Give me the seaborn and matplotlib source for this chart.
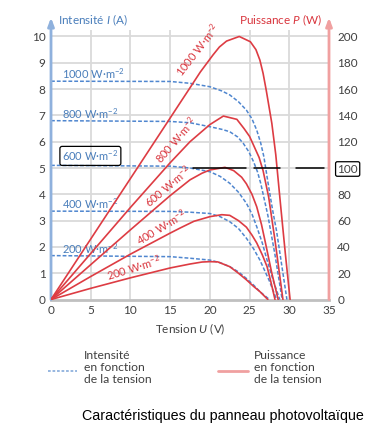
import matplotlib
matplotlib.use("Agg")
import matplotlib.pyplot as plt
import seaborn as sns
import pandas as pd

# ---------------- data ----------------
irradiances = ["1000", "800", "600", "400", "200"]

# Intensité I (A) vs tension U (V)
U_I_1000 = [0, 15, 17.5, 20, 21.5, 22.5, 23.6, 24.6, 25.3, 25.9, 26.4, 26.8, 27.4, 27.9, 28.4, 29.0, 29.7]
I_1000 = [8.3, 8.29, 8.22, 8.09, 7.93, 7.78, 7.52, 7.2, 6.87, 6.44, 5.95, 5.43, 4.29, 3.4, 2.6, 1.4, 0]
U_I_800 = [0, 15, 17.5, 20, 21.5, 22.5, 23.5, 24.2, 24.9, 25.5, 26.0, 26.4, 27.3, 28.2, 29.1]
I_800 = [6.8, 6.77, 6.72, 6.57, 6.47, 6.38, 6.18, 5.94, 5.62, 5.24, 4.85, 4.42, 3.2, 1.7, 0]
U_I_600 = [0, 15, 17.5, 20, 21.3, 22.5, 23.6, 24.6, 25.3, 25.9, 26.6, 27.2, 28.0, 28.8]
I_600 = [5.1, 5.07, 5.0, 4.86, 4.68, 4.42, 4.08, 3.66, 3.25, 2.77, 2.15, 1.5, 0.7, 0]
U_I_400 = [0, 15, 17.5, 20, 21.3, 22.5, 23.6, 24.6, 25.5, 26.3, 27.5, 28.4]
I_400 = [3.36, 3.35, 3.32, 3.27, 3.15, 2.96, 2.7, 2.33, 1.93, 1.5, 0.7, 0]
U_I_200 = [0, 15, 17.5, 20, 21.3, 22.5, 23.6, 24.6, 25.5, 26.3, 27.5]
I_200 = [1.67, 1.63, 1.57, 1.5, 1.4, 1.25, 1.05, 0.8, 0.55, 0.3, 0]

# Puissance P (W) vs tension U (V)
U_P_1000 = [0, 5, 10, 15, 16.3, 17.5, 18.8, 20.4, 21.2, 22.1, 23.7, 25.1, 25.8, 26.3, 26.7, 27.1, 27.8, 28.3, 28.9, 29.5, 30.1]
P_1000 = [0, 46, 92, 138, 150, 161, 173, 186, 192, 196.5, 200, 196, 190, 182, 172, 159, 134, 110, 72, 35, 0]
U_P_800 = [0, 5, 10, 15, 17.5, 20, 21.7, 23.4, 24.3, 25.0, 25.6, 26.2, 26.7, 27.4, 28.2, 28.8, 29.2]
P_800 = [0, 35, 70, 104, 120, 133, 139.5, 137, 130, 124, 116, 108, 98, 78, 45, 18, 0]
U_P_600 = [0, 5, 10, 15, 17.5, 19, 20, 21.9, 23.0, 24.0, 24.6, 25.3, 25.9, 26.5, 27.0, 27.8, 28.6]
P_600 = [0, 26.5, 53, 79, 91, 96, 98.5, 100.5, 98, 93, 88, 80, 70.5, 57, 43, 20, 0]
U_P_400 = [0, 5, 10, 15, 16.3, 18, 20, 21.5, 22.5, 23.6, 24.6, 25.3, 25.9, 26.6, 27.2, 27.7, 28.2]
P_400 = [0, 17.5, 34.5, 50.5, 54.5, 59.5, 63, 64.5, 64, 60, 55, 49, 43, 34, 25, 13, 0]
U_P_200 = [0, 5, 10, 15, 17.5, 19, 20, 21, 22.5, 23.6, 24.6, 25.5, 26.3, 27.3]
P_200 = [0, 8.5, 16.5, 24, 27, 28.5, 28.8, 28.6, 25, 20, 15, 10, 6, 0]

x_ticks = [0, 5, 10, 15, 20, 25, 30, 35]
i_ticks = [0, 1, 2, 3, 4, 5, 6, 7, 8, 9, 10]
p_ticks = [0, 20, 40, 60, 80, 100, 120, 140, 160, 180, 200]

# hand-drawn annotation at P = 100 W
marker_level = 100
marker_segments = [(17.9, 24.5), (25.6, 28.8), (30.9, 34.4)]

# ---------------- style ----------------
sns.set_theme(style="white")
plt.rcParams["font.family"] = ["Lato", "DejaVu Sans"]
plt.rcParams["mathtext.fontset"] = "custom"
plt.rcParams["mathtext.rm"] = "Lato"
plt.rcParams["mathtext.it"] = "Lato:italic"

BLUE_TXT = "#4a7ebb"
BLUE_LINE = "#4f86cf"
BLUE_AXIS = "#8fb1dd"
RED_TXT = "#d9363e"
RED_LINE = "#dd3c43"
RED_AXIS = "#f0a0a0"
GRID = "#dadada"
TICK = "#404040"

fig = plt.figure(figsize=(3.77, 4.26), dpi=100)
ax = fig.add_axes([0.1353, 0.2969, 0.7374, 0.6329])
ax2 = ax.twinx()

ax.set_xlim(0, 35)
ax.set_ylim(0, 10.25)
ax2.set_ylim(0, 205)

# grid
for v in x_ticks[1:-1]:
    ax.axvline(v, color=GRID, lw=1.3, zorder=0)
for i in i_ticks[1:]:
    ax.axhline(i, color=GRID, lw=1.3, zorder=0)

# curves
I_curves = {"1000": (U_I_1000, I_1000), "800": (U_I_800, I_800), "600": (U_I_600, I_600),
            "400": (U_I_400, I_400), "200": (U_I_200, I_200)}
P_curves = {"1000": (U_P_1000, P_1000), "800": (U_P_800, P_800), "600": (U_P_600, P_600),
            "400": (U_P_400, P_400), "200": (U_P_200, P_200)}

dfI = pd.concat([pd.DataFrame({"U": u, "I": i, "E": e}) for e, (u, i) in I_curves.items()])
dfP = pd.concat([pd.DataFrame({"U": u, "P": p, "E": e}) for e, (u, p) in P_curves.items()])

sns.lineplot(data=dfI, x="U", y="I", hue="E", palette=[BLUE_LINE] * 5, sort=False,
             estimator=None, legend=False, lw=1.1, ax=ax, zorder=3)
for ln in ax.get_lines()[-5:]:
    ln.set_dashes([2.5, 1.3])
sns.lineplot(data=dfP, x="U", y="P", hue="E", palette=[RED_LINE] * 5, sort=False,
             estimator=None, legend=False, lw=1.2, ax=ax2, zorder=3)

# annotation at 100 W
for a, b in marker_segments:
    ax2.plot([a, b], [marker_level, marker_level], color="black", lw=1.1, zorder=4, clip_on=False)

# spines
for s in ["left", "right", "top"]:
    ax.spines[s].set_visible(False)
    ax2.spines[s].set_visible(False)
ax2.spines["bottom"].set_visible(False)
ax.spines["bottom"].set_color("#c0c0c0")
ax.spines["bottom"].set_linewidth(2)

ax.annotate("", xy=(0, 10.72), xytext=(0, 0), annotation_clip=False,
            arrowprops=dict(arrowstyle="-|>,head_length=0.4,head_width=0.15", color=BLUE_AXIS,
                            lw=2, shrinkA=0, shrinkB=0))
ax.annotate("", xy=(35, 10.72), xytext=(35, 0), annotation_clip=False,
            arrowprops=dict(arrowstyle="-|>,head_length=0.4,head_width=0.15", color=RED_AXIS,
                            lw=2, shrinkA=0, shrinkB=0))

# ticks
ax.set_xticks(x_ticks)
ax.set_yticks(i_ticks)
ax2.set_yticks(p_ticks)
ax.tick_params(axis="both", length=0, labelsize=8.5, labelcolor=TICK, pad=4)
ax2.tick_params(axis="y", length=0, labelsize=8.5, labelcolor=TICK, pad=6)
for lab in ax2.get_yticklabels():
    if lab.get_text() == "100":
        lab.set_bbox(dict(boxstyle="round,pad=0.15", fc="none", ec="black", lw=0.9))

ax.set_xlabel("Tension $U$ (V)", fontsize=8.5, color=TICK, labelpad=4)
ax.set_ylabel("")
ax2.set_ylabel("")

ax.text(0.9, 10.63, "Intensité $I$ (A)", color=BLUE_TXT, fontsize=8.5, va="center", ha="left")
ax.text(34.2, 10.63, "Puissance $P$ (W)", color=RED_TXT, fontsize=8.5, va="center", ha="right")

# blue labels
blue_label_y = {"1000": 8.6, "800": 7.05, "600": 5.46, "400": 3.66, "200": 1.95}
for e in irradiances:
    t = ax.text(1.4, blue_label_y[e], e + " W·m$^{-2}$", color=BLUE_TXT, fontsize=8,
                va="center", ha="left", zorder=5)
    if e == "600":
        t.set_bbox(dict(boxstyle="round,pad=0.2", fc="none", ec="black", lw=0.9))

# red labels (centre U, centre P, angle)
red_labels = {"1000": (18.5, 190, 52), "800": (15.8, 121.5, 49), "600": (14.7, 86.5, 40),
              "400": (13.85, 55, 31), "200": (10.45, 24, 17)}
for e in irradiances:
    x, y, r = red_labels[e]
    ax2.text(x, y, e + " W·m$^{-2}$", color=RED_TXT, fontsize=8, rotation=r,
             rotation_mode="anchor", ha="center", va="center", zorder=5)

# legend
fig.lines.append(plt.Line2D([48 / 377, 77 / 377], [1 - 371 / 426] * 2, transform=fig.transFigure,
                            color=BLUE_AXIS, lw=1.3, dashes=[1.5, 1]))
fig.lines.append(plt.Line2D([218 / 377, 248 / 377], [1 - 371 / 426] * 2, transform=fig.transFigure,
                            color=RED_AXIS, lw=2))
fig.text(84 / 377, 1 - 367.5 / 426, "Intensité\nen fonction\nde la tension", fontsize=8.7,
         color=TICK, va="center", ha="left", linespacing=1.12)
fig.text(254 / 377, 1 - 367.5 / 426, "Puissance\nen fonction\nde la tension", fontsize=8.7,
         color=TICK, va="center", ha="left", linespacing=1.12)

fig.text(82 / 377, 1 - 416 / 426, "Caractéristiques du panneau photovoltaïque",
         family="Liberation Sans", fontsize=10.3, color="black", va="center", ha="left")

fig.savefig("out.png", dpi=100, facecolor="white")
